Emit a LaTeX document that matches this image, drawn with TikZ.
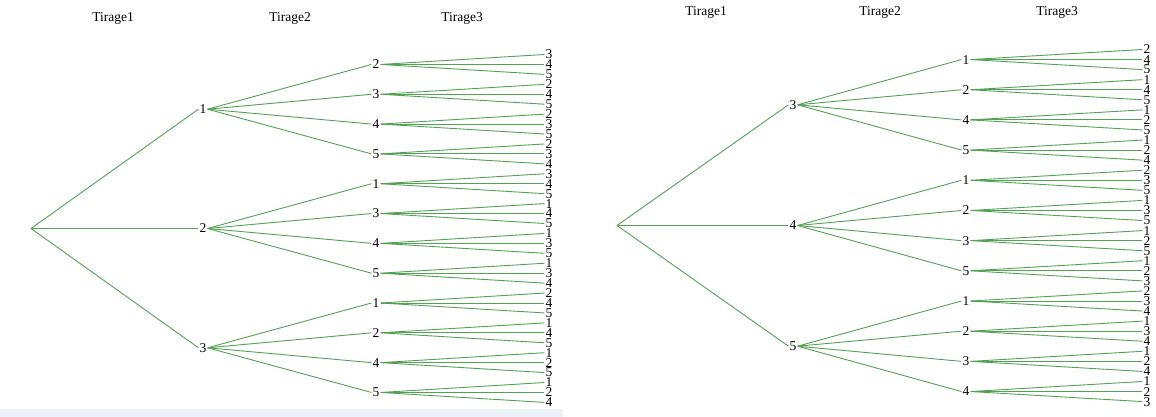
\documentclass[tikz,border=0pt]{standalone}
\usepackage{fontspec}
\setmainfont{Liberation Serif}
\definecolor{tgreen}{RGB}{84,160,84}
\definecolor{stripc}{RGB}{238,242,249}
\begin{document}
\begin{tikzpicture}[x=1pt,y=-1pt,
  lab/.style={font=\fontsize{13.5}{13.5}\selectfont,inner sep=1pt},
  hd/.style={font=\fontsize{13.5}{14}\selectfont,inner sep=0pt},
  br/.style={draw=tgreen,line width=0.9pt}]
\useasboundingbox (0,0) rectangle (1156,417);
\fill[stripc] (0,409) rectangle (563,417);
% headers
\node[hd] (hL1) at (113,18) {Tirage1};
\node[hd] (hL2) at (290,18) {Tirage2};
\node[hd] (hL3) at (462,18) {Tirage3};
\node[hd] (hR1) at (706,12) {Tirage1};
\node[hd] (hR2) at (880,12) {Tirage2};
\node[hd] (hR3) at (1057,12) {Tirage3};
% ---------- left tree ----------
\coordinate (A) at (31,228.5);
\foreach \lab [count=\i from 0] in {1,2,3}
  \node[lab] (A\i) at (203,109.2+119.3*\i) {\lab};
\foreach \lab [count=\j from 0] in {2,3,4,5,1,3,4,5,1,2,4,5}
  \node[lab] (B\j) at (376,64.44+29.82*\j) {\lab};
\foreach \lab [count=\k from 0] in {3,4,5, 2,4,5, 2,3,5, 2,3,4,
                                    3,4,5, 1,4,5, 1,3,5, 1,3,4,
                                    2,4,5, 1,4,5, 1,2,5, 1,2,4}
  \node[lab] (C\k) at (549,54.5+9.94*\k) {\lab};
\foreach \i in {0,1,2} \draw[br] (A) -- (A\i.west);
\foreach \j in {0,...,11}{
  \pgfmathtruncatemacro\p{int(\j/4)}
  \draw[br] (A\p.east) -- (B\j.west);}
\foreach \k in {0,...,35}{
  \pgfmathtruncatemacro\p{int(\k/3)}
  \draw[br] (B\p.east) -- (C\k.west);}
% ---------- right tree ----------
\coordinate (R) at (617,225.5);
\foreach \lab [count=\i from 0] in {3,4,5}
  \node[lab] (R\i) at (793,104.8+120.7*\i) {\lab};
\foreach \lab [count=\j from 0] in {1,2,4,5,1,2,3,5,1,2,3,4}
  \node[lab] (S\j) at (966,59.56+30.18*\j) {\lab};
\foreach \lab [count=\k from 0] in {2,4,5, 1,4,5, 1,2,5, 1,2,4,
                                    2,3,5, 1,3,5, 1,2,5, 1,2,3,
                                    2,3,4, 1,3,4, 1,2,4, 1,2,3}
  \node[lab] (T\k) at (1147,49.5+10.06*\k) {\lab};
\foreach \i in {0,1,2} \draw[br] (R) -- (R\i.west);
\foreach \j in {0,...,11}{
  \pgfmathtruncatemacro\p{int(\j/4)}
  \draw[br] (R\p.east) -- (S\j.west);}
\foreach \k in {0,...,35}{
  \pgfmathtruncatemacro\p{int(\k/3)}
  \draw[br] (S\p.east) -- (T\k.west);}
\end{tikzpicture}
\end{document}
